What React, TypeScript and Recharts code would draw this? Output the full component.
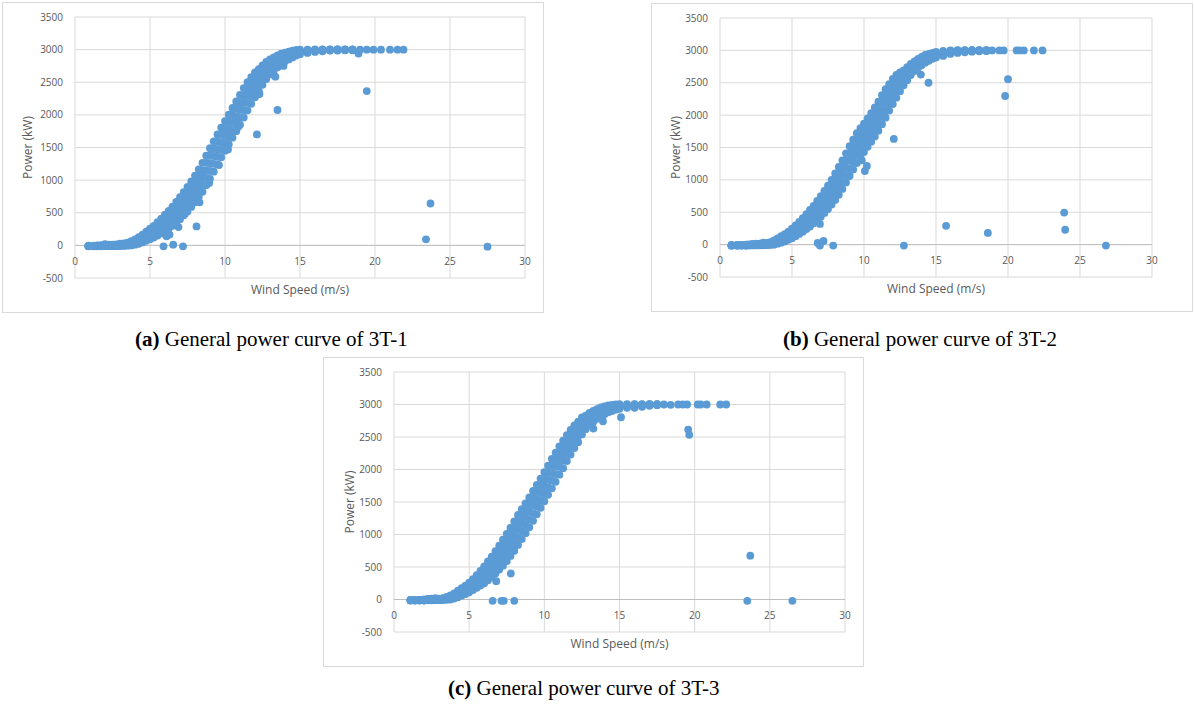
import React from 'react';
import { ScatterChart, Scatter, XAxis, YAxis, CartesianGrid, ReferenceLine } from 'recharts';

// each row: wind speed (m/s), then power readings (kW) taken across the thickness of the band
type Row = [number, number, number, number, number, number];
type Pt = [number, number];

const bandA: Row[] = [
  [0.9, -15, -12, -10, -8, -5], [1.25, -15, -12, -10, -8, -5], [1.5, -15, -12, -10, -5, 0], [1.75, -15, -10, -8, -3, 5],
  [2.0, -12, -8, -5, 5, 20], [2.25, -12, -8, -5, 0, 10], [2.5, -12, -8, -5, 0, 10], [2.75, -10, -5, -3, 5, 15],
  [3.0, -10, -5, 0, 10, 25], [3.25, -8, 0, 5, 15, 30], [3.5, -5, 5, 15, 25, 40], [3.75, 0, 15, 30, 45, 65],
  [4.0, 10, 25, 45, 65, 90], [4.25, 25, 45, 70, 95, 125], [4.5, 45, 70, 100, 130, 165], [4.75, 70, 100, 135, 170, 210],
  [5.0, 95, 130, 170, 210, 255], [5.25, 120, 160, 205, 250, 300], [5.5, 150, 195, 245, 300, 355], [5.75, 185, 235, 290, 345, 410],
  [6.0, 220, 275, 335, 400, 470], [6.25, 260, 320, 385, 455, 530], [6.5, 300, 370, 440, 515, 595], [6.75, 350, 425, 500, 580, 665],
  [7.0, 400, 480, 565, 650, 740], [7.25, 460, 545, 630, 720, 815], [7.5, 520, 610, 700, 800, 895], [7.75, 590, 685, 780, 880, 980],
  [8.0, 660, 760, 860, 965, 1070], [8.25, 740, 840, 945, 1055, 1165], [8.5, 820, 930, 1040, 1150, 1265], [8.75, 920, 1035, 1150, 1265, 1375],
  [9.0, 1020, 1140, 1260, 1375, 1490], [9.25, 1130, 1250, 1370, 1485, 1595], [9.5, 1240, 1360, 1475, 1590, 1700], [9.75, 1350, 1465, 1580, 1695, 1805],
  [10.0, 1450, 1565, 1680, 1795, 1905], [10.25, 1550, 1665, 1780, 1895, 2005], [10.5, 1650, 1765, 1880, 1995, 2105], [10.75, 1750, 1865, 1980, 2095, 2205],
  [11.0, 1850, 1965, 2080, 2195, 2305], [11.25, 1960, 2075, 2190, 2300, 2410], [11.5, 2070, 2185, 2300, 2400, 2500], [11.75, 2170, 2280, 2390, 2490, 2580],
  [12.0, 2270, 2375, 2480, 2570, 2650], [12.25, 2370, 2470, 2570, 2640, 2700], [12.5, 2460, 2560, 2650, 2710, 2760], [12.75, 2550, 2630, 2710, 2760, 2810],
  [13.0, 2620, 2690, 2760, 2810, 2850], [13.25, 2680, 2740, 2800, 2850, 2880], [13.5, 2730, 2790, 2840, 2880, 2910], [13.75, 2780, 2830, 2870, 2910, 2940],
  [14.0, 2820, 2860, 2900, 2930, 2955], [14.25, 2850, 2890, 2920, 2950, 2970], [14.5, 2880, 2915, 2945, 2965, 2985], [14.75, 2910, 2935, 2960, 2980, 2995],
  [15.0, 2930, 2950, 2970, 2985, 3000], [15.5, 2950, 2965, 2980, 2990, 3000], [16.0, 2965, 2980, 2990, 2995, 3005], [16.5, 2975, 2985, 2995, 3000, 3005],
  [17.0, 2985, 2990, 3000, 3000, 3005], [17.5, 2985, 2995, 3000, 3005, 3005], [18.0, 2990, 2995, 3000, 3000, 3005], [18.5, 2990, 2995, 3000, 3000, 3005],
];
const extraA: Pt[] = [
  [18.9, 2940], [19.0, 3000], [19.45, 3000], [19.9, 3000], [20.4, 3000], [21.0, 3000], [21.5, 3000], [21.9, 3000],
  [10.2, 1470], [9.6, 1230], [10.9, 1820], [8.95, 955], [13.36, 2585], [13.9, 2750], [7.33, 485], [12.3, 2320],
  [5.9, -15], [6.1, 140], [6.3, 165], [6.55, 10], [6.9, 280], [7.2, -15], [8.1, 290], [8.3, 660],
  [12.13, 1700], [13.5, 2075], [19.45, 2365], [23.4, 92], [23.7, 642], [27.5, -20],
];

const bandB: Row[] = [
  [0.8, -15, -13, -12, -10, -8], [1.2, -15, -13, -12, -10, -5], [1.5, -15, -12, -10, -8, -5], [1.8, -15, -12, -10, -5, 0],
  [2.0, -12, -10, -8, -3, 5], [2.25, -12, -8, -5, 0, 10], [2.5, -12, -8, -5, 5, 15], [2.75, -10, -5, -3, 5, 15],
  [3.0, -10, -5, 0, 15, 30], [3.25, -8, 0, 5, 15, 25], [3.5, -5, 5, 15, 25, 40], [3.75, 0, 15, 30, 45, 65],
  [4.0, 15, 30, 50, 70, 95], [4.25, 30, 50, 75, 100, 130], [4.5, 50, 75, 100, 130, 160], [4.75, 75, 105, 135, 165, 200],
  [5.0, 100, 135, 170, 205, 245], [5.25, 130, 170, 210, 250, 295], [5.5, 165, 205, 250, 300, 350], [5.75, 200, 250, 300, 355, 410],
  [6.0, 240, 295, 350, 410, 470], [6.25, 280, 340, 400, 465, 535], [6.5, 330, 395, 460, 530, 600], [6.75, 380, 450, 520, 595, 675],
  [7.0, 430, 505, 580, 665, 750], [7.25, 490, 570, 650, 740, 830], [7.5, 550, 635, 720, 815, 910], [7.75, 620, 715, 810, 905, 1000],
  [8.0, 690, 795, 900, 1000, 1100], [8.25, 770, 880, 990, 1095, 1200], [8.5, 860, 970, 1080, 1190, 1300], [8.75, 960, 1075, 1190, 1300, 1410],
  [9.0, 1060, 1180, 1300, 1410, 1520], [9.25, 1160, 1280, 1400, 1510, 1620], [9.5, 1260, 1380, 1500, 1610, 1720], [9.75, 1350, 1465, 1580, 1690, 1800],
  [10.0, 1430, 1545, 1660, 1770, 1870], [10.25, 1510, 1625, 1740, 1850, 1950], [10.5, 1590, 1705, 1820, 1930, 2030], [10.75, 1670, 1785, 1900, 2010, 2120],
  [11.0, 1760, 1875, 1990, 2100, 2210], [11.25, 1860, 1975, 2090, 2200, 2310], [11.5, 1960, 2075, 2190, 2300, 2400], [11.75, 2070, 2180, 2290, 2390, 2480],
  [12.0, 2170, 2280, 2390, 2480, 2560], [12.25, 2270, 2380, 2480, 2560, 2620], [12.5, 2370, 2470, 2560, 2620, 2660], [12.75, 2460, 2540, 2620, 2660, 2690],
  [13.0, 2540, 2610, 2670, 2710, 2740], [13.25, 2620, 2670, 2720, 2760, 2790], [13.5, 2680, 2720, 2760, 2800, 2830], [13.75, 2730, 2770, 2800, 2840, 2870],
  [14.0, 2770, 2800, 2830, 2870, 2900], [14.25, 2810, 2840, 2870, 2900, 2930], [14.5, 2840, 2870, 2900, 2920, 2945], [14.75, 2870, 2895, 2920, 2945, 2960],
  [15.0, 2890, 2915, 2940, 2960, 2975], [15.5, 2915, 2940, 2960, 2975, 2990], [16.0, 2945, 2965, 2980, 2990, 3000], [16.5, 2960, 2975, 2990, 3000, 3005],
  [17.0, 2970, 2985, 2995, 3000, 3005], [17.5, 2980, 2990, 3000, 3005, 3005], [18.0, 2985, 2995, 3000, 3000, 3005], [18.5, 2990, 2995, 3000, 3000, 3005],
];
const extraB: Pt[] = [
  [18.9, 3000], [19.4, 3000], [19.7, 3000], [20.6, 3000], [20.8, 3000], [21.1, 3000], [21.8, 3000], [22.4, 3000],
  [23.9, 495], [23.97, 230], [26.8, -15], [20.0, 2555], [19.8, 2295], [15.7, 290], [18.6, 180], [12.77, -15],
  [12.07, 1632], [13.95, 2627], [14.48, 2500], [10.2, 1214], [10.06, 1137], [9.85, 1300], [7.86, -15],
  [6.78, 25], [6.94, -15], [7.19, 56], [6.94, 320],
];

const bandC: Row[] = [
  [1.1, -15, -13, -12, -10, -8], [1.4, -15, -13, -12, -10, -5], [1.7, -15, -12, -10, -8, -5], [2.0, -15, -12, -10, -5, 0],
  [2.25, -12, -10, -5, 0, 10], [2.5, -12, -8, -5, 5, 15], [2.75, -10, -5, 0, 10, 20], [3.0, -10, -5, 0, 10, 15],
  [3.25, -8, 0, 5, 10, 20], [3.5, -5, 5, 15, 25, 40], [3.75, 0, 15, 30, 45, 65], [4.0, 15, 30, 50, 70, 95],
  [4.25, 35, 55, 80, 105, 135], [4.5, 60, 85, 110, 140, 175], [4.75, 85, 115, 145, 180, 215], [5.0, 110, 145, 180, 220, 260],
  [5.25, 145, 185, 225, 270, 315], [5.5, 180, 225, 270, 320, 375], [5.75, 215, 265, 320, 375, 440], [6.0, 250, 315, 380, 445, 510],
  [6.25, 295, 365, 440, 510, 585], [6.5, 345, 420, 500, 580, 660], [6.75, 400, 485, 570, 655, 745], [7.0, 460, 550, 640, 735, 830],
  [7.25, 520, 620, 720, 820, 920], [7.5, 590, 695, 800, 905, 1010], [7.75, 670, 780, 890, 995, 1100], [8.0, 750, 865, 980, 1090, 1200],
  [8.25, 840, 960, 1080, 1190, 1300], [8.5, 930, 1050, 1170, 1280, 1390], [8.75, 1020, 1140, 1260, 1370, 1480], [9.0, 1110, 1230, 1350, 1460, 1570],
  [9.25, 1210, 1330, 1450, 1560, 1670], [9.5, 1310, 1430, 1545, 1655, 1765], [9.75, 1410, 1525, 1640, 1750, 1860], [10.0, 1510, 1625, 1740, 1850, 1960],
  [10.25, 1610, 1725, 1840, 1950, 2060], [10.5, 1710, 1830, 1945, 2055, 2165], [10.75, 1810, 1930, 2045, 2155, 2260], [11.0, 1920, 2040, 2150, 2255, 2355],
  [11.25, 2020, 2140, 2250, 2350, 2445], [11.5, 2130, 2240, 2350, 2445, 2530], [11.75, 2230, 2340, 2445, 2530, 2610], [12.0, 2330, 2430, 2530, 2610, 2680],
  [12.25, 2420, 2515, 2610, 2680, 2735], [12.5, 2540, 2620, 2700, 2750, 2800], [12.75, 2620, 2690, 2750, 2790, 2830], [13.0, 2680, 2740, 2790, 2830, 2870],
  [13.25, 2730, 2780, 2830, 2870, 2900], [13.5, 2780, 2820, 2860, 2900, 2930], [13.75, 2820, 2855, 2890, 2930, 2955], [14.0, 2850, 2885, 2920, 2950, 2970],
  [14.25, 2880, 2910, 2940, 2965, 2985], [14.5, 2900, 2930, 2960, 2980, 2995], [14.75, 2920, 2945, 2970, 2990, 3000], [15.0, 2935, 2960, 2980, 2995, 3005],
  [15.5, 2950, 2970, 2985, 2995, 3005], [16.0, 2950, 2970, 2990, 3000, 3005], [16.5, 2965, 2985, 2995, 3000, 3005], [17.0, 2980, 2990, 3000, 3005, 3005],
  [17.5, 2990, 2995, 3000, 3005, 3005],
];
const extraC: Pt[] = [
  [17.96, 3000], [18.4, 2995], [18.9, 3000], [19.2, 3000], [19.5, 3000], [20.2, 3000], [20.4, 3000],
  [20.8, 3000], [21.7, 3000], [22.1, 3000],
  [15.1, 2804], [13.9, 2742], [13.26, 2630], [19.57, 2615], [19.64, 2533], [23.7, 674], [23.5, -20],
  [26.5, -20], [6.56, -20], [7.15, -20], [7.3, -20], [8.0, -20], [6.8, 282], [7.77, 400],
];

const xTicks = [0, 5, 10, 15, 20, 25, 30];
const yTicks = [-500, 0, 500, 1000, 1500, 2000, 2500, 3000, 3500];

const DOT = '#5b9bd5';
const GRID = '#d9d9d9';
const TEXT = '#595959';
const FONT = '"Open Sans", "Noto Sans", sans-serif';

function toPoints(band: Row[], extra: Pt[]) {
  const pts: { x: number; y: number }[] = [];
  band.forEach(([ws, ...powers]) => {
    powers.forEach((p) => pts.push({ x: ws, y: p }));
  });
  extra.forEach(([ws, p]) => pts.push({ x: ws, y: p }));
  return pts;
}

interface PanelProps {
  left: number;
  top: number;
  width: number;
  height: number;
  axisWidth: number;
  rightPad: number;
  titleX: number;
  data: { x: number; y: number }[];
}

function Panel({ left, top, width, height, axisWidth, rightPad, titleX, data }: PanelProps) {
  return (
    <>
      <div style={{
        position: 'absolute', left, top, width, height,
        border: `1px solid ${GRID}`, boxSizing: 'border-box', background: '#fff'
      }} />
      <div style={{ position: 'absolute', left, top }}>
        <ScatterChart width={width} height={height} margin={{ top: 15, right: rightPad, bottom: 5, left: 0 }}>
          <CartesianGrid stroke={GRID} strokeWidth={1} />
          <XAxis
            type="number"
            dataKey="x"
            domain={[0, 30]}
            ticks={xTicks}
            axisLine={false}
            tickLine={false}
            tickSize={0}
            tickMargin={0}
            height={30}
            interval={0}
            tick={(p: any) => (
              <text x={p.x} y={p.y} dy={-13} textAnchor="middle" fill={TEXT} fontSize={10} fontFamily={FONT}>
                {p.payload.value}
              </text>
            )}
            label={{ value: 'Wind Speed (m/s)', position: 'insideTop', offset: 7, fill: TEXT, fontSize: 12, fontFamily: FONT }}
          />
          <YAxis
            type="number"
            dataKey="y"
            domain={[-500, 3500]}
            ticks={yTicks}
            axisLine={false}
            tickLine={false}
            tickSize={0}
            tickMargin={12}
            width={axisWidth}
            interval={0}
            tick={{ fill: TEXT, fontSize: 10, fontFamily: FONT }}
            label={{
              value: 'Power (kW)', angle: -90, position: 'insideLeft', offset: titleX,
              fill: TEXT, fontSize: 12, fontFamily: FONT, style: { textAnchor: 'middle' }
            }}
          />
          <ReferenceLine y={0} stroke="#bfbfbf" strokeWidth={1} />
          <Scatter
            data={data}
            isAnimationActive={false}
            shape={(p: any) => <circle cx={p.cx} cy={p.cy} r={3.9} fill={DOT} />}
          />
        </ScatterChart>
      </div>
    </>
  );
}

const captionStyle: React.CSSProperties = {
  position: 'absolute',
  fontFamily: '"Liberation Serif", "Times New Roman", serif',
  fontSize: 21,
  lineHeight: '21px',
  color: '#000',
  whiteSpace: 'nowrap',
};

export default function App() {
  return (
    <div style={{ position: 'absolute', left: 0, top: 0, width: 1194, height: 707, background: '#fff', overflow: 'hidden' }}>
      <Panel left={2} top={2} width={542} height={311} axisWidth={73} rightPad={19} titleX={26} data={toPoints(bandA, extraA)} />
      <Panel left={651} top={3} width={542} height={309} axisWidth={69} rightPad={41} titleX={25} data={toPoints(bandB, extraB)} />
      <Panel left={323} top={357} width={541} height={310} axisWidth={71} rightPad={19} titleX={27} data={toPoints(bandC, extraC)} />

      <div style={{ ...captionStyle, left: 135, top: 329 }}><b>(a)</b> General power curve of 3T-1</div>
      <div style={{ ...captionStyle, left: 783, top: 329 }}><b>(b)</b> General power curve of 3T-2</div>
      <div style={{ ...captionStyle, left: 448, top: 678 }}><b>(c)</b> General power curve of 3T-3</div>
    </div>
  );
}
